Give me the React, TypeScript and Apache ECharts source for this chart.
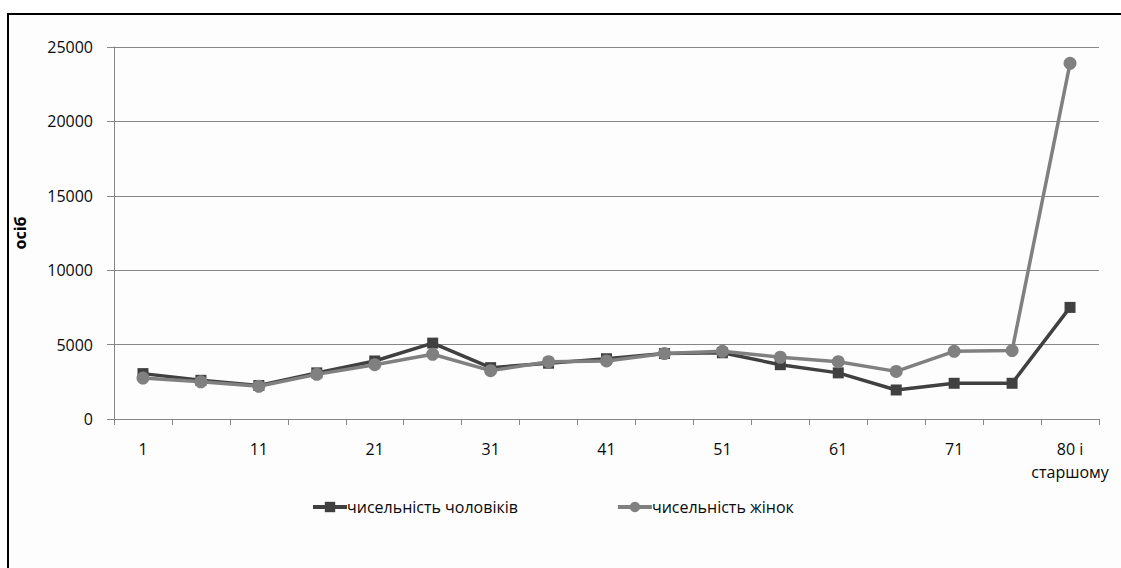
import React, { useEffect, useRef } from "react";
import * as echarts from "echarts";

const categories = ["1", "6", "11", "16", "21", "26", "31", "36", "41", "46", "51", "56", "61", "66", "71", "76", "80 і\nстаршому"];
const menValues = [3050, 2600, 2250, 3100, 3900, 5100, 3450, 3750, 4050, 4400, 4450, 3650, 3100, 1950, 2400, 2400, 7500];
const womenValues = [2750, 2500, 2200, 3000, 3650, 4350, 3250, 3850, 3900, 4400, 4550, 4150, 3850, 3200, 4550, 4600, 23900];
const yTicks = { min: 0, max: 25000, interval: 5000 };
const seriesNames = ["чисельність чоловіків", "чисельність жінок"];
const yAxisTitle = "осіб";

const FONT = "'Open Sans', 'Noto Sans', sans-serif";
const TXT = "#0a0a0a";

export default function App() {
  const ref = useRef<HTMLDivElement>(null);
  useEffect(() => {
    document.body.style.margin = "0";
    if (!ref.current) return;
    const chart = echarts.init(ref.current, null, { renderer: "svg" });
    chart.setOption({
      animation: false,
      backgroundColor: "#ffffff",
      textStyle: { fontFamily: FONT },
      graphic: [
        {
          type: "rect",
          left: 7,
          top: 13,
          shape: { width: 1200, height: 600 },
          style: { fill: "#fdfdfd", stroke: "#000000", lineWidth: 2 },
          z: -10,
        },
      ],
      grid: { left: 114, right: 22, top: 47, bottom: 149, containLabel: false },
      legend: {
        left: 306,
        top: 494,
        itemWidth: 34,
        itemHeight: 13,
        itemGap: 98,
        lineStyle: { width: 4 },
        textStyle: { fontFamily: FONT, fontSize: 16, color: TXT, padding: [0, 0, 0, -5] },
        data: seriesNames,
      },
      xAxis: {
        type: "category",
        data: categories,
        boundaryGap: true,
        axisLine: { lineStyle: { color: "#868686", width: 1 } },
        axisTick: { show: true, length: 6, interval: 0, alignWithLabel: false, lineStyle: { color: "#868686" } },
        axisLabel: {
          interval: 1,
          margin: 18,
          fontFamily: FONT,
          fontSize: 16,
          color: TXT,
          lineHeight: 23,
          verticalAlign: "top",
        },
      },
      yAxis: {
        type: "value",
        min: yTicks.min,
        max: yTicks.max,
        interval: yTicks.interval,
        name: yAxisTitle,
        nameLocation: "middle",
        nameGap: 86,
        nameRotate: 90,
        nameTextStyle: { fontFamily: FONT, fontSize: 16, fontWeight: "bold", color: "#000" },
        axisLine: { show: true, lineStyle: { color: "#868686", width: 1 } },
        axisTick: { show: true, length: 7, lineStyle: { color: "#868686" } },
        splitLine: { show: true, lineStyle: { color: "#868686", width: 1 } },
        axisLabel: {
          margin: 21,
          fontFamily: FONT,
          fontSize: 16,
          color: TXT,
          formatter: (v: number) => String(v),
        },
      },
      series: [
        {
          name: seriesNames[0],
          type: "line",
          data: menValues,
          symbol: "rect",
          symbolSize: 11,
          lineStyle: { color: "#404040", width: 3.5 },
          itemStyle: { color: "#404040" },
          z: 2,
        },
        {
          name: seriesNames[1],
          type: "line",
          data: womenValues,
          symbol: "circle",
          symbolSize: 13,
          lineStyle: { color: "#808080", width: 3.5 },
          itemStyle: { color: "#808080" },
          z: 3,
        },
      ],
    });
    return () => chart.dispose();
  }, []);
  return <div ref={ref} style={{ width: 1121, height: 568 }} />;
}
